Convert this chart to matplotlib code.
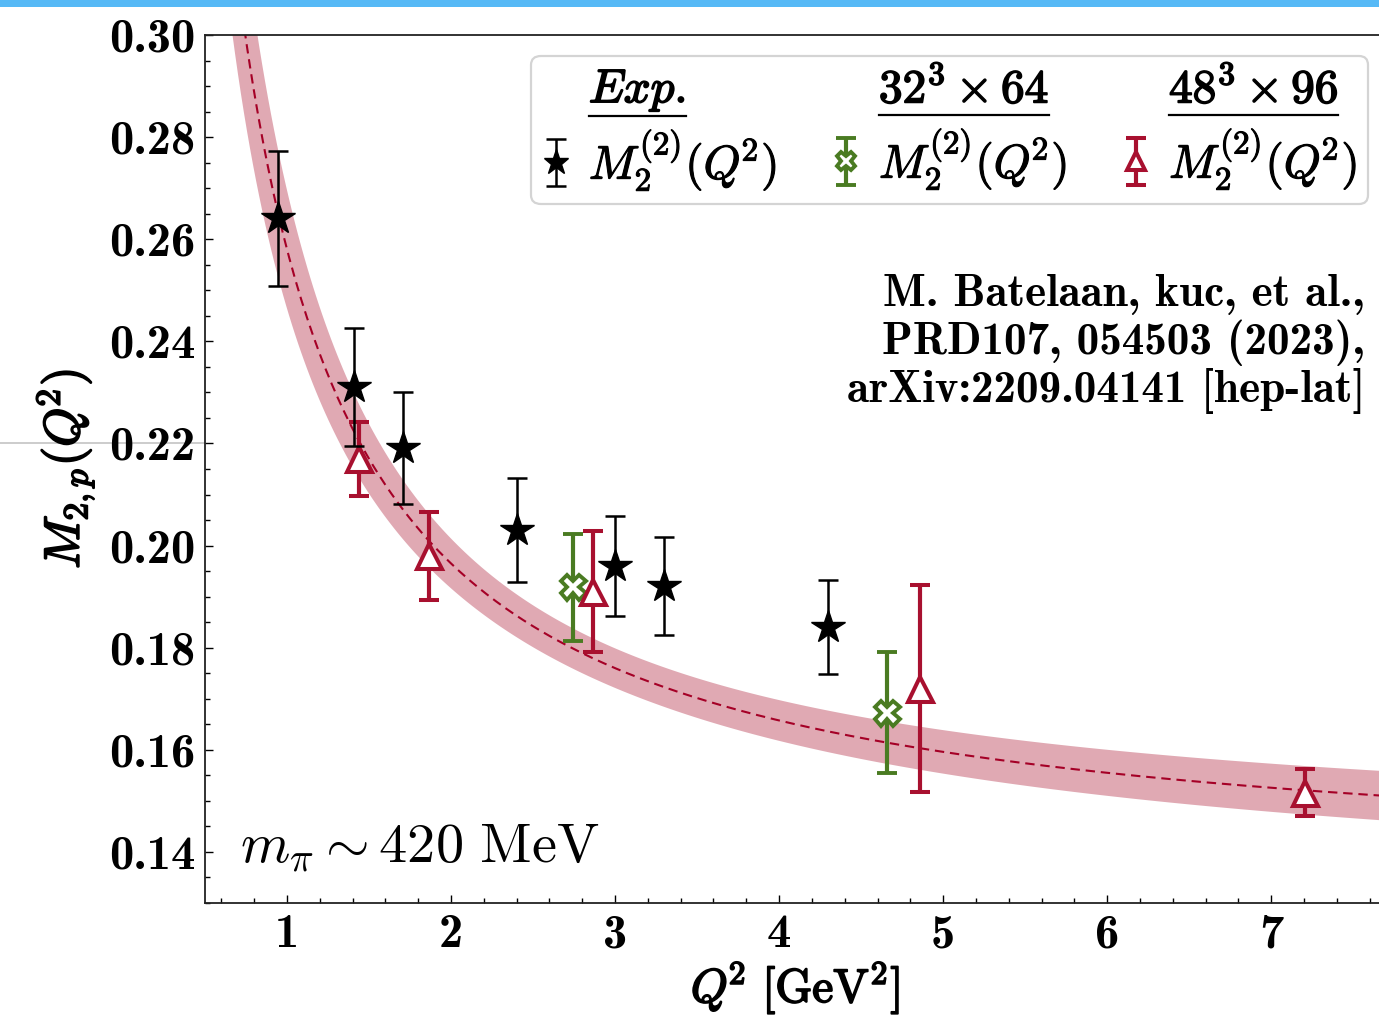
import numpy as np
import matplotlib
matplotlib.use("Agg")
import matplotlib.pyplot as plt
import matplotlib.patheffects as pe
from matplotlib.lines import Line2D
from matplotlib.patches import Rectangle
from matplotlib.transforms import IdentityTransform
from matplotlib.ticker import MultipleLocator, FormatStrFormatter

plt.rcParams["mathtext.fontset"] = "cm"
plt.rcParams["axes.formatter.use_mathtext"] = False

# Experimental moments
exp_q2 = [0.945, 1.41, 1.705, 2.40, 3.00, 3.30, 4.30]
exp_m2 = [0.2641, 0.2311, 0.2191, 0.2030, 0.1960, 0.1920, 0.1840]
exp_err = [0.0132, 0.0116, 0.0109, 0.0102, 0.0098, 0.0096, 0.0092]

# Lattice 32^3 x 64
l32_q2 = [2.742, 4.66]
l32_m2 = [0.1918, 0.1673]
l32_err = [0.0105, 0.0118]

# Lattice 48^3 x 96
l48_q2 = [1.437, 1.864, 2.864, 4.86, 7.205]
l48_m2 = [0.2170, 0.1979, 0.1910, 0.1720, 0.1516]
l48_err = [0.0073, 0.0086, 0.0118, 0.0203, 0.0046]

# Fit M(Q^2) = a + b / Q^2 with correlated uncertainties
fit_a, fit_b = 0.1350, 0.1230
fit_sa, fit_sb, fit_rho = 0.0063, 0.0159, -0.79

xticks = [1, 2, 3, 4, 5, 6, 7]
yticks = [0.14, 0.16, 0.18, 0.20, 0.22, 0.24, 0.26, 0.28, 0.30]

c_black = "black"
c_green = "#4a7b22"
c_red = "#a8102f"
c_fit = "#a50026"
c_band = "#e0a9b3"

W, H = 1379, 1016
fig = plt.figure(figsize=(W / 100, H / 100), dpi=100)
ax = fig.add_axes([205 / W, 1 - 903 / H, (1386 - 205) / W, (903 - 35) / H])

# fit curve and its error band
q = np.linspace(0.5, 7.8, 400)
u = 1.0 / q
mfit = fit_a + fit_b * u
sig = np.sqrt(fit_sa**2 + (fit_sb * u) ** 2 + 2 * fit_rho * fit_sa * fit_sb * u)
ax.fill_between(q, mfit - sig, mfit + sig, color=c_band, lw=0, zorder=1)
ax.plot(q, mfit, color=c_fit, lw=1.5, ls=(0, (4.5, 2.8)), zorder=2)


def heavy(w, col="black"):
    return [pe.withStroke(linewidth=w, foreground=col)]


h_exp = ax.errorbar(exp_q2, exp_m2, yerr=exp_err, fmt="*", ms=25, color=c_black,
                    mec=c_black, elinewidth=1.8, capsize=7, capthick=1.8, zorder=5)
h_32 = ax.errorbar(l32_q2, l32_m2, yerr=l32_err, fmt="X", ms=18, mfc="white",
                   mec=c_green, mew=2.8, color=c_green, elinewidth=3.0,
                   capsize=7, capthick=3.4, zorder=4)
h_48 = ax.errorbar(l48_q2, l48_m2, yerr=l48_err, fmt="^", ms=18, mfc="white",
                   mec=c_red, mew=2.9, color=c_red, elinewidth=3.0,
                   capsize=7, capthick=3.4, zorder=4)

ax.set_xlim(0.5, 7.7)
ax.set_ylim(0.13, 0.30)
ax.set_xticks(xticks)
ax.set_yticks(yticks)
ax.xaxis.set_minor_locator(MultipleLocator(0.2))
ax.yaxis.set_minor_locator(MultipleLocator(0.005))
ax.xaxis.set_major_formatter(FormatStrFormatter("%d"))
ax.yaxis.set_major_formatter(FormatStrFormatter("%.2f"))
ax.tick_params(which="both", direction="in", top=False, right=False, width=1.0)
ax.tick_params(which="major", length=6, labelsize=35)
ax.tick_params(which="minor", length=3.5)
ax.tick_params(axis="y", pad=7)
ax.tick_params(axis="x", pad=8)
for lab in ax.get_xticklabels() + ax.get_yticklabels():
    lab.set_fontfamily("cmb10")
for s in ax.spines.values():
    s.set_linewidth(1.3)
    s.set_color("#222222")

ax.set_ylabel(r"$M_{2,p}(Q^{\!2})$", fontsize=36)
ax.yaxis.set_label_coords(-0.092, 0.5)
ax.yaxis.label.set_path_effects(heavy(1.3))
ax.set_xlabel(r"$Q^{\!2}\ [\mathrm{GeV}^2]$", fontsize=34)
ax.xaxis.set_label_coords(0.5, -0.066)
ax.xaxis.label.set_path_effects(heavy(1.3))

# pion mass annotation
fig.text(240 / W, 1 - 862 / H, r"$m_\pi \sim 420\ \mathrm{MeV}$", fontsize=40.5,
         ha="left", va="baseline")

# citation
cite = ["M. Batelaan, kuc, et al.,", "PRD107, 054503 (2023),",
        "arXiv:2209.04141 [hep-lat]"]
for i, line in enumerate(cite):
    fig.text(1365 / W, 1 - (306 + 48 * i) / H, line, fontsize=32.5,
             family="cmb10", ha="right", va="baseline")

# legend: header row + entry row per column
blank = Line2D([], [], ls="none", marker=None)
entry = r"$M_2^{(2)}(Q^{\!2})$"
handles = [blank, h_exp, blank, h_32, blank, h_48]
labels = [r"$Exp.$", entry, r"$32^3\times 64$", entry, r"$48^3\times 96$", entry]
leg = ax.legend(handles, labels, ncol=3, fontsize=34, loc="upper right",
                bbox_to_anchor=(1368 / W, 1 - 56 / H), bbox_transform=fig.transFigure,
                markerscale=0.75, handlelength=0.6, handletextpad=0.4,
                columnspacing=1.15, labelspacing=0.28, borderpad=0.22,
                borderaxespad=0, fancybox=True, framealpha=1, edgecolor="#d4d4d4")
leg.get_frame().set_linewidth(1.6)
texts = leg.get_texts()
for i, t in enumerate(texts):
    t.set_path_effects(heavy(1.2 if i % 2 == 0 else 0.8))

fig.canvas.draw()
renderer = fig.canvas.get_renderer()
for t in (texts[0], texts[2], texts[4]):
    bb = t.get_window_extent(renderer)
    fig.add_artist(Line2D([bb.x0, bb.x1], [bb.y0 - 3, bb.y0 - 3], color="black",
                          lw=1.6, transform=IdentityTransform()))

# window chrome
fig.add_artist(Rectangle((0, 1 - 7 / H), 1, 7 / H, transform=fig.transFigure,
                         color="#56b9f6", lw=0))
fig.add_artist(Line2D([0, 205 / W], [1 - 443 / H] * 2, transform=fig.transFigure,
                      color="#cccccc", lw=1.4, zorder=0))

fig.savefig("out.png", dpi=100)
